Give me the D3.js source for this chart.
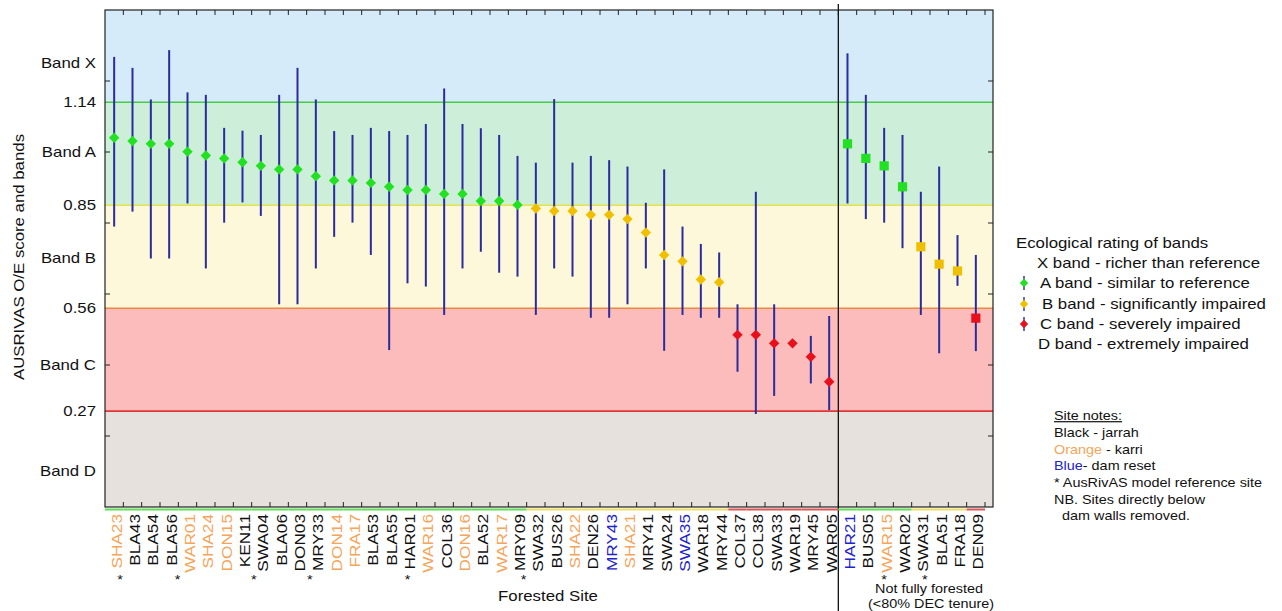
<!DOCTYPE html>
<html>
<head>
<meta charset="utf-8">
<script src="https://cdn.jsdelivr.net/npm/d3@7"></script>
<style>
  html, body { margin: 0; padding: 0; background: #fff; }
  svg text { font-family: "Liberation Sans", Arial, sans-serif; }
</style>
</head>
<body>
<div id="chart"></div>
<script>
// ---- data ----
const forestedSites = ["SHA23","BLA43","BLA54","BLA56","WAR01","SHA24","DON15","KEN11","SWA04","BLA06",
  "DON03","MRY33","DON14","FRA17","BLA53","BLA55","HAR01","WAR16","COL36","DON16",
  "BLA52","WAR17","MRY09","SWA32","BUS26","SHA22","DEN26","MRY43","SHA21","MRY41",
  "SWA24","SWA35","WAR18","MRY44","COL37","COL38","SWA33","WAR19","MRY45","WAR05"];
const notForestedSites = ["HAR21","BUS05","WAR15","WAR02","SWA31","BLA51","FRA18","DEN09"];

const scores = [1.040,1.031,1.023,1.023,1.001,0.990,0.982,0.971,0.961,0.951,
  0.951,0.932,0.920,0.920,0.913,0.902,0.893,0.893,0.882,0.882,
  0.862,0.862,0.851,0.841,0.834,0.834,0.823,0.823,0.811,0.773,
  0.710,0.692,0.641,0.633,0.485,0.485,0.461,0.461,0.423,0.353,
  1.023,0.982,0.961,0.902,0.733,0.684,0.665,0.532];
const lowerCI = [0.790,0.832,0.700,0.700,0.855,0.672,0.801,0.858,0.820,0.571,
  0.571,0.672,0.761,0.801,0.710,0.442,0.630,0.621,0.541,0.672,
  0.719,0.660,0.649,0.541,0.672,0.649,0.533,0.533,0.571,0.672,
  0.440,0.541,0.533,0.533,0.381,0.262,0.313,null,0.348,0.273,
  0.855,0.811,0.801,0.729,0.541,0.433,0.623,0.439];
const upperCI = [1.268,1.237,1.148,1.287,1.168,1.161,1.068,1.060,1.048,1.161,
  1.237,1.148,1.059,1.048,1.068,1.059,1.048,1.079,1.179,1.079,
  1.067,1.048,0.989,0.970,1.149,0.970,0.989,0.977,0.959,0.857,
  0.951,0.790,0.741,0.717,0.571,0.888,0.571,null,0.482,0.538,
  1.278,1.161,1.068,1.048,0.888,0.959,0.766,0.710];

const karriSites = ["SHA23","WAR01","SHA24","DON15","DON14","FRA17","WAR16","DON16","WAR17","SHA22","SHA21","WAR15"];
const damResetSites = ["MRY43","SWA35","HAR21"];
const referenceSites = ["SHA23","WAR01","SWA04","MRY33","HAR01","MRY09","WAR15","SWA31"];

const bandCuts = [1.14, 0.85, 0.56, 0.27];
const bandNames = ["X","A","B","C","D"];
const yTickValues = [1.25, 1.14, 1.0, 0.85, 0.7, 0.56, 0.4, 0.27, 0.1];
const yTickLabels = ["Band X","1.14","Band A","0.85","Band B","0.56","Band C","0.27","Band D"];
const legendLabels = ["X band - richer than reference","A band - similar to reference",
  "B band - significantly impaired","C band - severely impaired","D band - extremely impaired"];
const noteLines = ["Black - jarrah","Orange - karri","Blue- dam reset",
  "* AusRivAS model reference site","NB. Sites directly below","  dam walls removed."];

// ---- styling ----
const BAND_FILL = { X: "#d5ebf9", A: "#cdeed9", B: "#fdf8d9", C: "#fdbcbc", D: "#e6e1dc" };
const CUT_LINE = ["#44cc44", "#e4e44a", "#ee8840", "#dd3838"];
const MARK = { A: "#22e022", B: "#f0c000", C: "#e8101c" };
const UNDER = { A: "#5fdd55", B: "#eedd66", C: "#dd5555" };
const BAR = "#2b2ba0";
const ORANGE = "#f5a55a", BLUE = "#2222cc";
const SX = 1.2; // the source font is drawn wide
const starNudge = { SHA23: 6, WAR01: -10, SWA04: -7, MRY33: -6, MRY09: 6, SWA31: 4 };

const W = 1282, H = 611;
const m = { left: 105, top: 10, right: 993, bottom: 507 };

const sites = forestedSites.concat(notForestedSites);
const data = sites.map((s, i) => ({
  site: s, score: scores[i], lo: lowerCI[i], hi: upperCI[i],
  forested: i < forestedSites.length
}));
function band(v) {
  let k = 0;
  while (k < bandCuts.length && v < bandCuts[k]) k++;
  return bandNames[k];
}

const svg = d3.select("#chart").append("svg")
  .attr("width", W).attr("height", H);

const x = d3.scaleBand().domain(sites).range([m.left, 985]).padding(0);
const y = d3.scaleLinear().domain([0, 1.4]).range([m.bottom, m.top]);
const step = x.step();
const cx = s => x(s) + x.bandwidth() / 2;

function wideText(g, tx, ty, str, opts = {}) {
  const t = g.append("text")
    .attr("transform", `translate(${tx},${ty})${opts.rotate ? " rotate(-90)" : ""} scale(${opts.sx || SX},1)`)
    .attr("font-size", opts.size || 14)
    .attr("text-anchor", opts.anchor || "start")
    .attr("dy", opts.dy || "0.35em")
    .attr("fill", opts.fill || "#111");
  if (str != null) t.text(str);
  return t;
}

// ---- band backgrounds ----
const edges = [1.4].concat(bandCuts, [0]);
svg.append("g").selectAll("rect")
  .data(bandNames)
  .join("rect")
  .attr("x", m.left)
  .attr("width", m.right - m.left)
  .attr("y", (d, i) => y(edges[i]))
  .attr("height", (d, i) => y(edges[i + 1]) - y(edges[i]))
  .attr("fill", d => BAND_FILL[d]);

svg.append("g").selectAll("line")
  .data(bandCuts)
  .join("line")
  .attr("x1", m.left).attr("x2", m.right)
  .attr("y1", d => y(d)).attr("y2", d => y(d))
  .attr("stroke", (d, i) => CUT_LINE[i])
  .attr("stroke-width", 1.6);

// ---- frame and ticks ----
svg.append("rect")
  .attr("x", m.left).attr("y", m.top)
  .attr("width", m.right - m.left).attr("height", m.bottom - m.top)
  .attr("fill", "none").attr("stroke", "#222").attr("stroke-width", 1.2);

const bounds = d3.range(1, sites.length + 1).map(i => m.left + i * step);
const tickG = svg.append("g").attr("stroke", "#222").attr("stroke-width", 1);
bounds.forEach(b => {
  tickG.append("line").attr("x1", b).attr("x2", b).attr("y1", m.top).attr("y2", m.top + 5);
  tickG.append("line").attr("x1", b).attr("x2", b).attr("y1", m.bottom).attr("y2", m.bottom - 5);
});
y.ticks(7).filter(v => v > 0 && v < 1.4).forEach(v => {
  tickG.append("line").attr("x1", m.left).attr("x2", m.left + 5).attr("y1", y(v)).attr("y2", y(v));
  tickG.append("line").attr("x1", m.right).attr("x2", m.right - 5).attr("y1", y(v)).attr("y2", y(v));
});

// ---- y labels ----
const yl = svg.append("g");
yTickValues.forEach((v, i) => {
  wideText(yl, 96, y(v), yTickLabels[i], { anchor: "end" });
});
wideText(svg, 19, 257, "AUSRIVAS O/E score and bands", { anchor: "middle", rotate: true });

// ---- divider ----
const divX = x(notForestedSites[0]);
svg.append("line")
  .attr("x1", divX).attr("x2", divX).attr("y1", 4).attr("y2", H)
  .attr("stroke", "#111").attr("stroke-width", 1.3);

// ---- error bars & markers ----
svg.append("g").selectAll("line")
  .data(data.filter(d => d.lo != null))
  .join("line")
  .attr("x1", d => cx(d.site)).attr("x2", d => cx(d.site))
  .attr("y1", d => y(d.hi)).attr("y2", d => y(d.lo))
  .attr("stroke", BAR).attr("stroke-width", 2);

const diamond = "M0,-5.2L5.2,0L0,5.2L-5.2,0Z";
const square = "M-4.6,-4.6H4.6V4.6H-4.6Z";
svg.append("g").selectAll("path")
  .data(data)
  .join("path")
  .attr("transform", d => `translate(${cx(d.site)},${y(d.score)})`)
  .attr("d", d => d.forested ? diamond : square)
  .attr("fill", d => MARK[band(d.score)]);

// ---- coloured rating underline ----
svg.append("g").selectAll("line")
  .data(data)
  .join("line")
  .attr("x1", d => x(d.site)).attr("x2", d => x(d.site) + step)
  .attr("y1", 509.5).attr("y2", 509.5)
  .attr("stroke", d => UNDER[band(d.score)])
  .attr("stroke-width", 2);

// ---- x labels ----
const xl = svg.append("g");
data.forEach(d => {
  const col = karriSites.includes(d.site) ? ORANGE
    : damResetSites.includes(d.site) ? BLUE : "#111";
  wideText(xl, cx(d.site) + 2.5, 514, d.site, { anchor: "end", rotate: true, sx: 1.23, fill: col });
  if (referenceSites.includes(d.site)) {
    wideText(xl, cx(d.site) + (starNudge[d.site] || 0), 580, "*", { anchor: "middle", size: 12, dy: "0.35em" });
  }
});
wideText(svg, 548, 596, "Forested Site", { anchor: "middle" });
wideText(svg, 929, 589, "Not fully forested", { anchor: "middle", size: 12 });
wideText(svg, 931, 604, "(<80% DEC tenure)", { anchor: "middle", size: 12 });

// ---- legend ----
const lg = svg.append("g");
wideText(lg, 1016, 243, "Ecological rating of bands");
const legY = [263, 283, 304, 324, 344];
const legX = [1037, 1040, 1042, 1040, 1038];
bandNames.forEach((b, i) => {
  if (MARK[b]) {
    lg.append("line").attr("x1", 1024).attr("x2", 1024)
      .attr("y1", legY[i] - 7).attr("y2", legY[i] + 7)
      .attr("stroke", BAR).attr("stroke-width", 1.4);
    lg.append("path").attr("transform", `translate(1024,${legY[i]}) scale(0.8)`)
      .attr("d", diamond).attr("fill", MARK[b]);
  }
  wideText(lg, legX[i], legY[i], legendLabels[i]);
});

// ---- site notes ----
const ng = svg.append("g");
wideText(ng, 1054, 416, "Site notes:", { size: 12 }).attr("text-decoration", "underline");
noteLines.forEach((line, i) => {
  const t = wideText(ng, 1054, 433 + i * 16.6, null, { size: 12 }).attr("xml:space", "preserve");
  const parts = line.split(/(Orange|Blue)/);
  parts.filter(p => p !== "").forEach(p => {
    t.append("tspan").text(p)
      .attr("fill", p === "Orange" ? ORANGE : p === "Blue" ? BLUE : "#111");
  });
});
</script>
</body>
</html>
